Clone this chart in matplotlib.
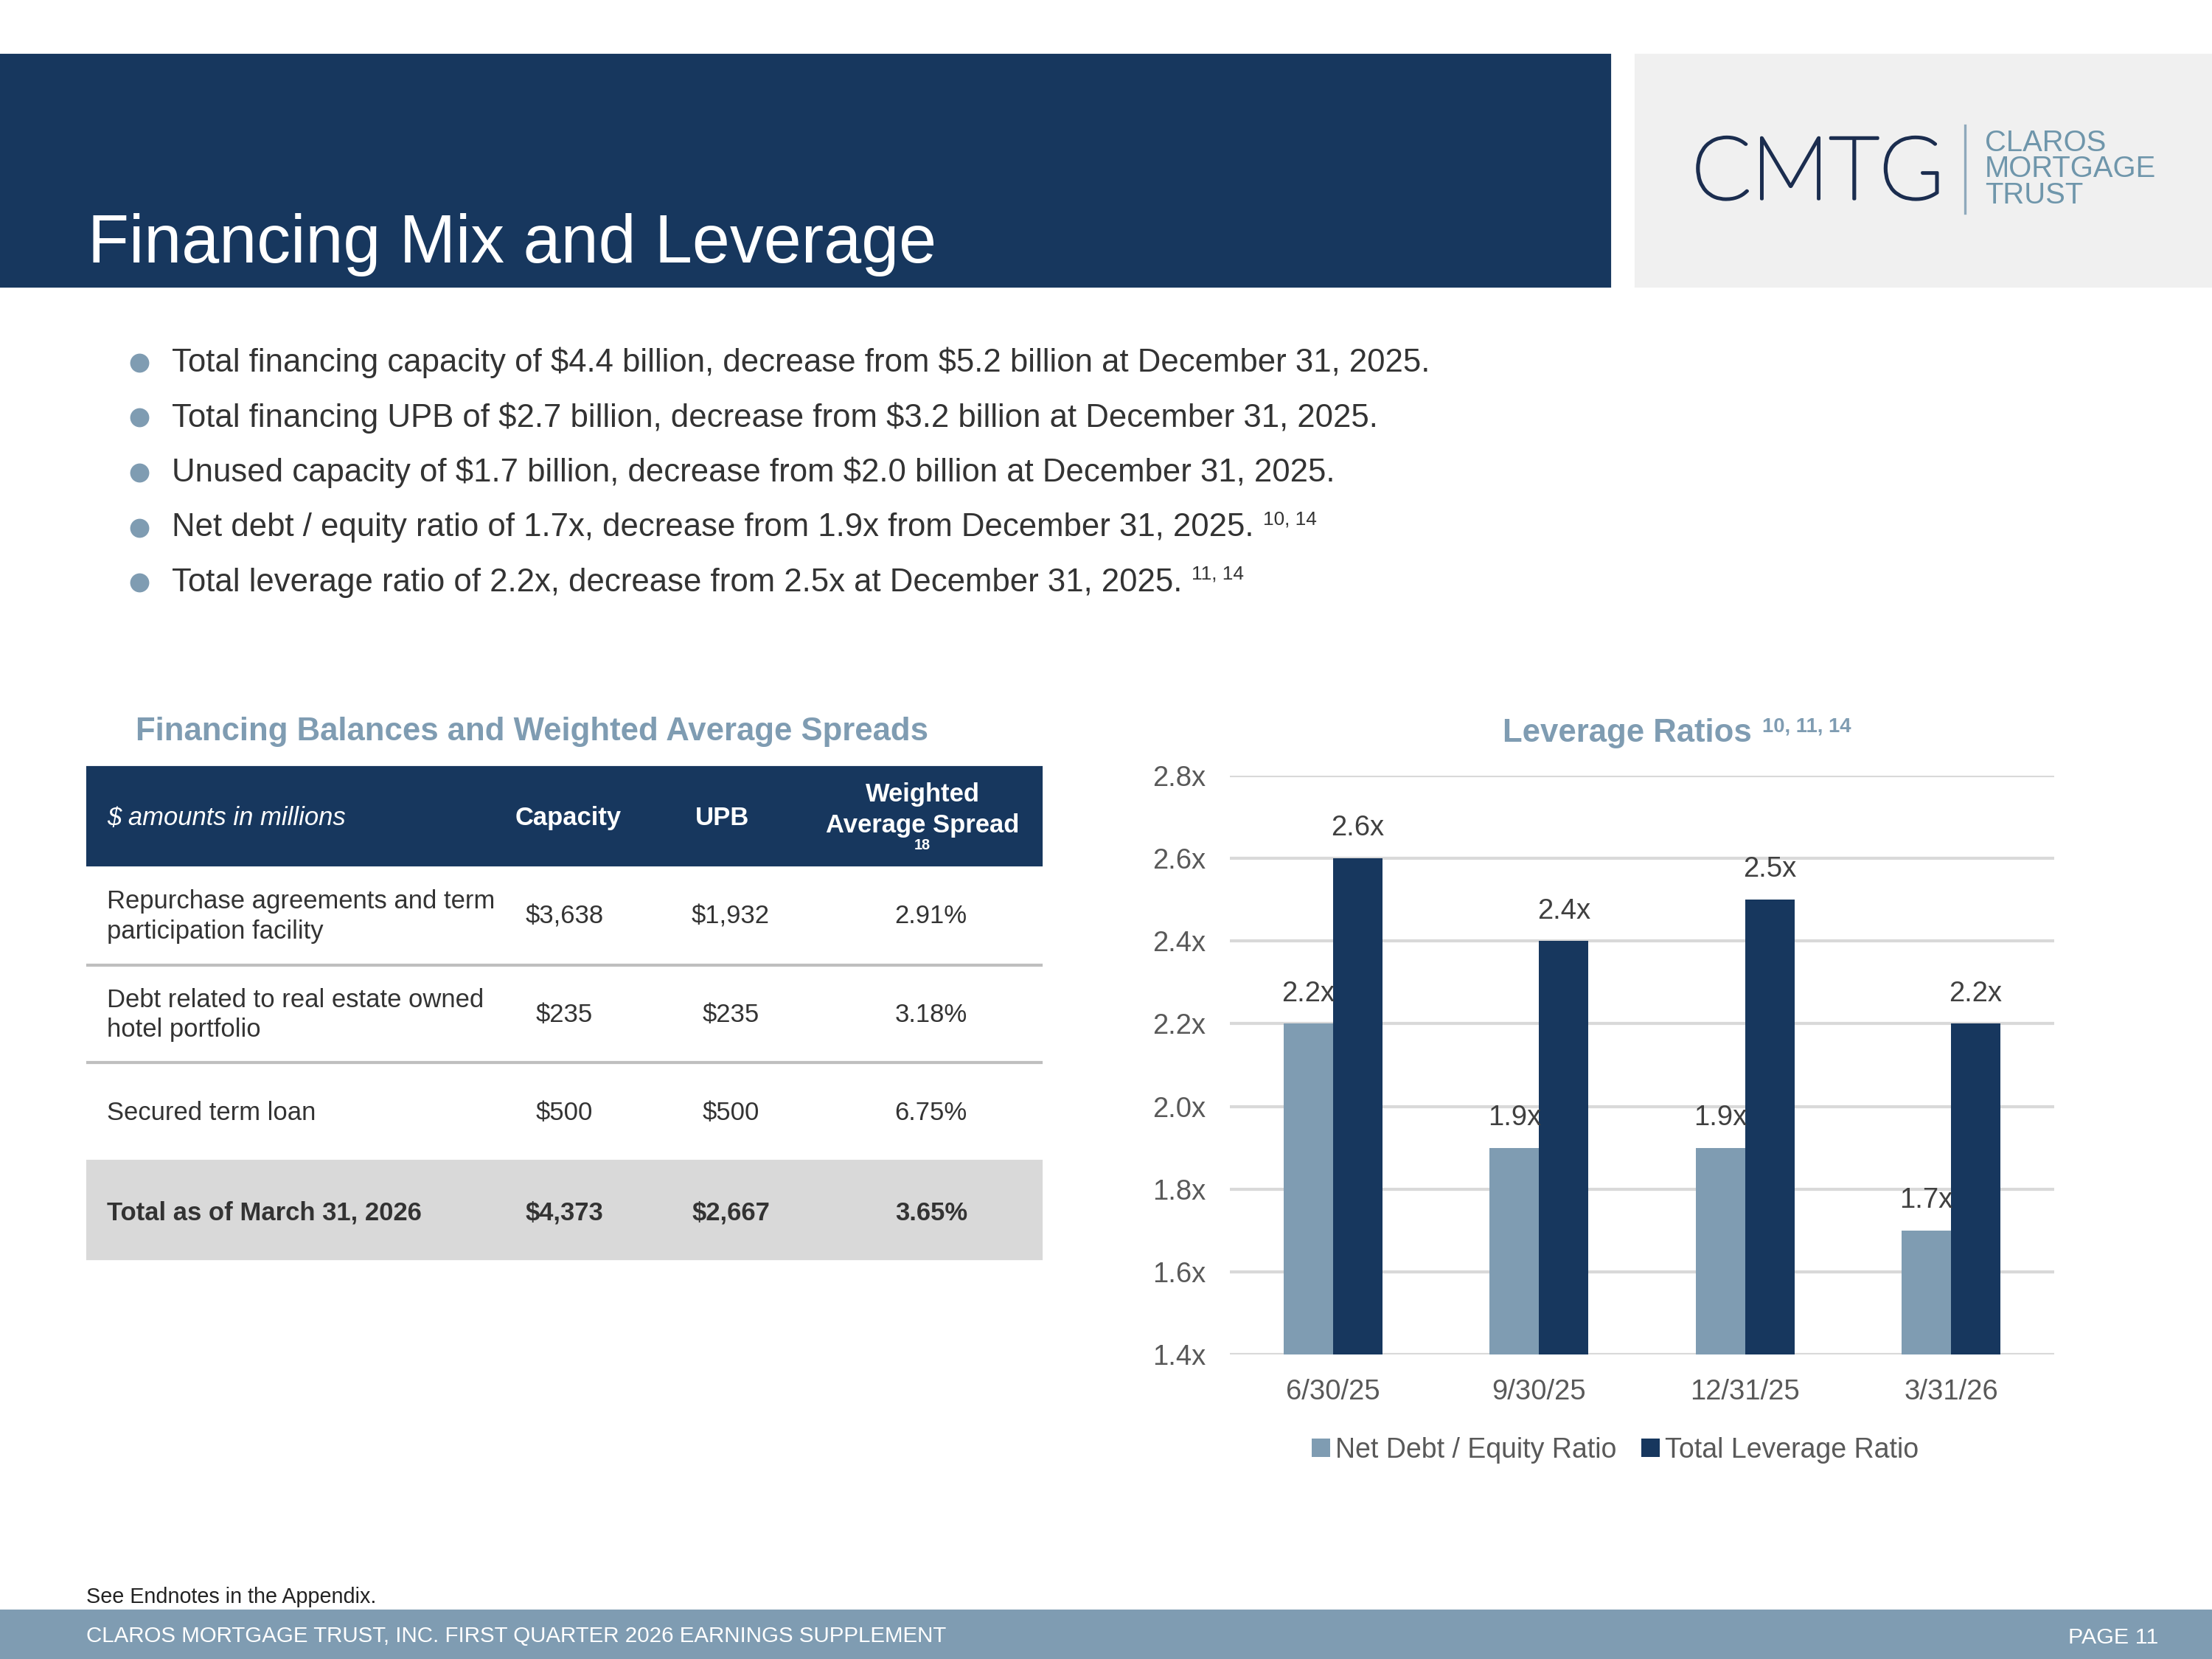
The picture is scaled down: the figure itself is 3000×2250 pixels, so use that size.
import numpy as np
import matplotlib.pyplot as plt
import matplotlib.patheffects as pe
from matplotlib.patches import Rectangle
from matplotlib.lines import Line2D

plt.rcParams['font.family'] = ['Liberation Sans', 'DejaVu Sans']
plt.rcParams['text.parse_math'] = False

NAVY = '#17375E'
STEEL = '#7F9CB2'
TEXT = '#333333'

# ---- data ----
periods = ['6/30/25', '9/30/25', '12/31/25', '3/31/26']
net_debt_equity = [2.2, 1.9, 1.9, 1.7]
total_leverage = [2.6, 2.4, 2.5, 2.2]

row_labels = ['Repurchase agreements and term\nparticipation facility',
              'Debt related to real estate owned\nhotel portfolio',
              'Secured term loan']
capacity = ['$3,638', '$235', '$500']
upb = ['$1,932', '$235', '$500']
spread = ['2.91%', '3.18%', '6.75%']
total_row = ['Total as of March 31, 2026', '$4,373', '$2,667', '3.65%']

bullets = [
    ('Total financing capacity of $4.4 billion, decrease from $5.2 billion at December 31, 2025.', ''),
    ('Total financing UPB of $2.7 billion, decrease from $3.2 billion at December 31, 2025.', ''),
    ('Unused capacity of $1.7 billion, decrease from $2.0 billion at December 31, 2025.', ''),
    ('Net debt / equity ratio of 1.7x, decrease from 1.9x from December 31, 2025.', '10, 14'),
    ('Total leverage ratio of 2.2x, decrease from 2.5x at December 31, 2025.', '11, 14'),
]

W, H = 1568, 1176
def fx(x):
    return x / W
def fy(y):
    return 1 - y / H

fig = plt.figure(figsize=(10, 7.5), dpi=300)

# ---- header ----
fig.patches.append(Rectangle((0, fy(203)), fx(1141), fy(39) - fy(203),
                             transform=fig.transFigure, color=NAVY, zorder=0))
fig.text(fx(62), fy(186), 'Financing Mix and Leverage', color='white',
         fontsize=22, va='baseline', ha='left')
fig.patches.append(Rectangle((fx(1160), fy(203)), 1 - fx(1160), fy(39) - fy(203),
                             transform=fig.transFigure, color='#F0F0F0', zorder=0))
fig.text(fx(1199), fy(141), 'CMTG', color='#1B2D4F', fontsize=28.5, va='baseline',
         ha='left', family=['Lato', 'Liberation Sans'], fontweight='light',
         path_effects=[pe.withStroke(linewidth=0.9, foreground='#1B2D4F')])
fig.add_artist(Line2D([fx(1393), fx(1393)], [fy(89), fy(151)], transform=fig.transFigure,
                      color='#8FA9BC', lw=0.8))
for i, word in enumerate(['CLAROS', 'MORTGAGE', 'TRUST']):
    fig.text(fx(1407), fy(107 + i * 18.5), word, color='#6F96AB', fontsize=9.6,
             va='baseline', ha='left')

# ---- bullets ----
fig.canvas.draw()
for i, (txt, sup) in enumerate(bullets):
    y = 257 + i * 39
    fig.add_artist(Line2D([fx(99)], [fy(y)], transform=fig.transFigure, marker='o',
                          markersize=5.2, color=STEEL, lw=0))
    t = fig.text(fx(122), fy(y), txt, color=TEXT, fontsize=10.5, va='center', ha='left')
    if sup:
        bb = t.get_window_extent(renderer=fig.canvas.get_renderer())
        xr = bb.x1 / fig.bbox.width
        fig.text(xr + 0.004, fy(y - 6), sup, color=TEXT, fontsize=6.3, va='center', ha='left')

# ---- table ----
fig.text(fx(96), fy(519), 'Financing Balances and Weighted Average Spreads', color=STEEL,
         fontsize=10.5, fontweight='bold', va='center', ha='left')
tl, tr = 62, 738
fig.patches.append(Rectangle((fx(tl), fy(613)), fx(tr - tl), fy(544) - fy(613),
                             transform=fig.transFigure, color=NAVY))
col_x = [76, 403, 512, 654]
fig.text(fx(col_x[0]), fy(580), '$ amounts in millions', color='white', fontsize=8.3,
         style='italic', va='center', ha='left')
fig.text(fx(col_x[1]), fy(580), 'Capacity', color='white', fontsize=8.3,
         fontweight='bold', va='center', ha='center')
fig.text(fx(col_x[2]), fy(580), 'UPB', color='white', fontsize=8.3,
         fontweight='bold', va='center', ha='center')
fig.text(fx(col_x[3]), fy(574), 'Weighted\nAverage Spread', color='white', fontsize=8.3,
         fontweight='bold', va='center', ha='center', linespacing=1.35)
fig.text(fx(654), fy(599), '18', color='white', fontsize=4.8, fontweight='bold',
         va='center', ha='center')

val_x = [400, 518, 660]
row_top = [613, 684, 753]
row_bot = [684, 753, 823]
for i in range(3):
    yc = (row_top[i] + row_bot[i]) / 2
    fig.text(fx(col_x[0]), fy(yc + 1), row_labels[i], color=TEXT, fontsize=8.3,
             va='center', ha='left', linespacing=1.3)
    for xv, v in zip(val_x, [capacity[i], upb[i], spread[i]]):
        fig.text(fx(xv), fy(yc + 1), v, color=TEXT, fontsize=8.3, va='center', ha='center')
    if i < 2:
        fig.add_artist(Line2D([fx(tl), fx(tr)], [fy(row_bot[i]), fy(row_bot[i])],
                              transform=fig.transFigure, color='#BFBFBF', lw=1.0))
fig.patches.append(Rectangle((fx(tl), fy(892)), fx(tr - tl), fy(823) - fy(892),
                             transform=fig.transFigure, color='#D9D9D9'))
fig.text(fx(col_x[0]), fy(860), total_row[0], color=TEXT, fontsize=8.3,
         fontweight='bold', va='center', ha='left')
for xv, v in zip(val_x, total_row[1:]):
    fig.text(fx(xv), fy(860), v, color=TEXT, fontsize=8.3, fontweight='bold',
             va='center', ha='center')

# ---- chart ----
fig.text(fx(1065), fy(520), 'Leverage Ratios', color=STEEL, fontsize=10.5,
         fontweight='bold', va='center', ha='left')
fig.text(fx(1249), fy(515), '10, 11, 14', color=STEEL, fontsize=6.6,
         fontweight='bold', va='center', ha='left')

ax = fig.add_axes([fx(872), fy(960), fx(1456 - 872), fy(550) - fy(960)])
x = np.arange(len(periods))
bw = 0.24
b1 = ax.bar(x - bw / 2, net_debt_equity, bw, color=STEEL, label='Net Debt / Equity Ratio',
            zorder=3)
b2 = ax.bar(x + bw / 2, total_leverage, bw, color=NAVY, label='Total Leverage Ratio',
            zorder=3)
ax.set_ylim(1.4, 2.8)
ax.set_xlim(-0.5, 3.5)
ax.set_yticks(np.arange(1.4, 2.81, 0.2))
ax.set_yticklabels([f'{v:.1f}x' for v in np.arange(1.4, 2.81, 0.2)])
ax.set_xticks(x)
ax.set_xticklabels(periods)
ax.tick_params(length=0, labelsize=9.2, labelcolor='#595959', pad=8)
ax.tick_params(axis='y', pad=8)
ax.grid(axis='y', color='#D9D9D9', lw=1.0, zorder=0)
for s in ax.spines.values():
    s.set_visible(False)
for bars in (b1, b2):
    ax.bar_label(bars, labels=[f'{v:.1f}x' for v in bars.datavalues], padding=5.5,
                 fontsize=9.2, color='#404040')

fig.legend(handles=[b1, b2], loc='center', bbox_to_anchor=(fx(1145), fy(1028)), ncol=2,
           frameon=False, fontsize=9.0, handlelength=0.65, handleheight=0.65,
           handletextpad=0.2, columnspacing=0.9, labelcolor='#595959')

# ---- footer ----
fig.text(fx(61), fy(1132), 'See Endnotes in the Appendix.', color='#222222', fontsize=6.9,
         va='center', ha='left')
fig.patches.append(Rectangle((0, 0), 1, fy(1142), transform=fig.transFigure, color=STEEL))
fig.text(fx(61), fy(1160), 'CLAROS MORTGAGE TRUST, INC. FIRST QUARTER 2026 EARNINGS SUPPLEMENT',
         color='white', fontsize=7.1, va='center', ha='left')
fig.text(fx(1530), fy(1161), 'PAGE 11', color='white', fontsize=7.3, va='center', ha='right')

fig.savefig('out.png', dpi=300)
